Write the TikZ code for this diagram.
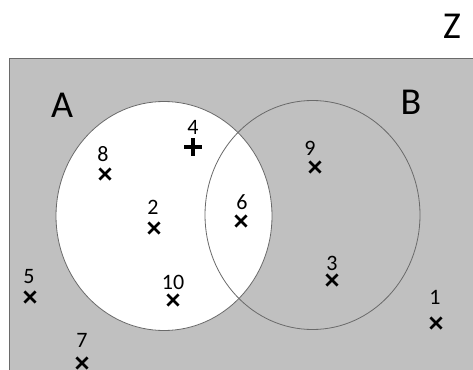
\documentclass[tikz,border=0pt]{standalone}
\usepackage{fontspec}
\setmainfont{Carlito}
\usetikzlibrary{shapes.misc}
\definecolor{bggray}{HTML}{C0C0C0}
\definecolor{edgegray}{HTML}{6A6A6A}
\tikzset{
  xmark/.style={cross out, draw=black, line width=2.7pt, minimum size=8.5pt, inner sep=0pt},
  pmark/.style={cross out, draw=black, line width=3.2pt, minimum size=9pt, inner sep=0pt, rotate=45},
  num/.style={inner sep=0pt, font=\fontsize{22}{22}\selectfont},
  setlbl/.style={inner sep=0pt, font=\fontsize{38}{38}\selectfont},
  setedge/.style={draw=edgegray, line width=0.8pt}
}
\begin{document}
\begin{tikzpicture}[x=1pt,y=-1pt]
\useasboundingbox (0,0) rectangle (473,369);
\clip (0,0) rectangle (473,369);
\fill[bggray] (9,58.5) rectangle (480,380);
\draw[edgegray, line width=1pt] (9,380) -- (9,58.5) -- (480,58.5);
\path[setedge, fill=white] (164,216) ellipse [x radius=108, y radius=114.5];
\path[setedge] (312.5,215) ellipse [x radius=107.5, y radius=114.5];
\node[setlbl] (Z) at (452,26.5) {Z};
\node[setlbl] (A) at (62,105) {A};
\node[setlbl] (B) at (411,102) {B};
% points
\node[num] (l4) at (193,127) {4};   \node[pmark] (m4) at (193,147) {};
\node[num] (l8) at (103,154) {8};   \node[xmark] (m8) at (105,174) {};
\node[num] (l2) at (153,207) {2};   \node[xmark] (m2) at (154,228) {};
\node[num] (l10) at (173,282) {10}; \node[xmark] (m10) at (173,300) {};
\node[num] (l5) at (29,277) {5};    \node[xmark] (m5) at (30,297) {};
\node[num] (l7) at (82,340) {7};    \node[xmark] (m7) at (82,363) {};
\node[num] (l6) at (242,202) {6};   \node[xmark] (m6) at (241,221) {};
\node[num] (l9) at (310,148) {9};   \node[xmark] (m9) at (315,167) {};
\node[num] (l3) at (332,263) {3};   \node[xmark] (m3) at (332,280) {};
\node[num] (l1) at (435,297) {1};   \node[xmark] (m1) at (436,323) {};
\end{tikzpicture}
\end{document}
